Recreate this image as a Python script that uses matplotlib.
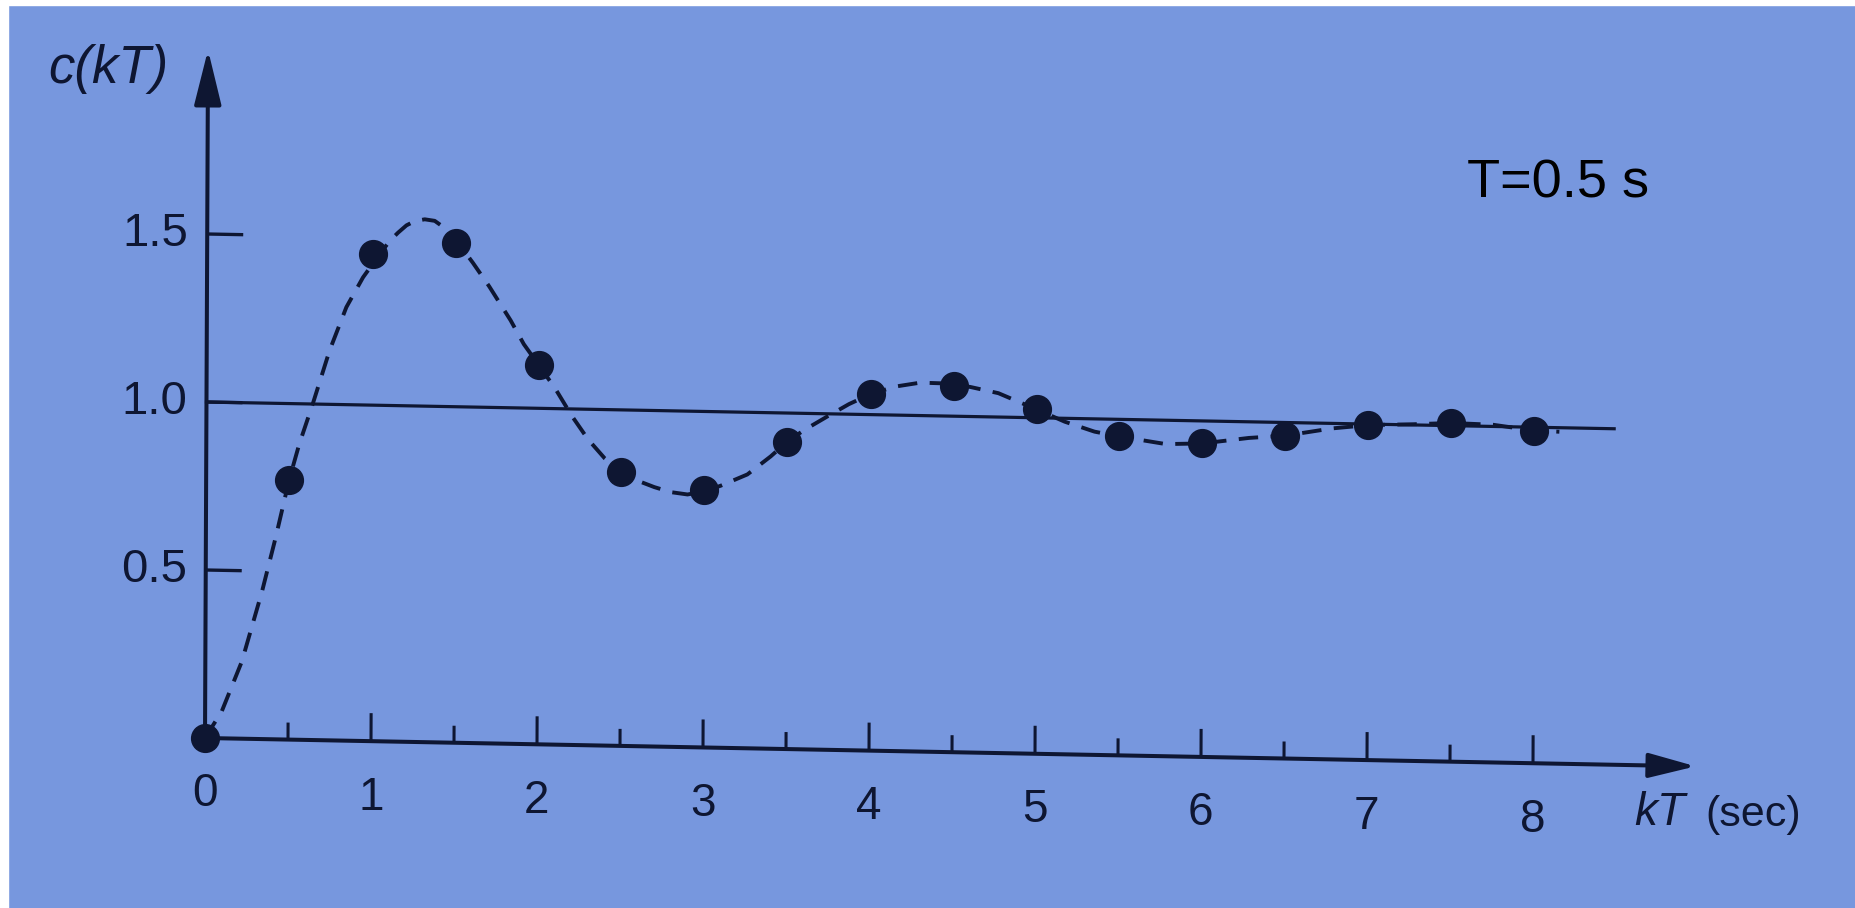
"""Sampled step response c(kT), T = 0.5 s (textbook figure, photographed)."""

import matplotlib

matplotlib.use("Agg")
import matplotlib.pyplot as plt
from matplotlib.patches import Rectangle
from matplotlib.transforms import Affine2D
import numpy as np

# sampled output c(kT)
k_t = [0, 0.5, 1.0, 1.5, 2.0, 2.5, 3.0, 3.5, 4.0, 4.5, 5.0, 5.5, 6.0, 6.5, 7.0, 7.5, 8.0]
c_kt = [0, 0.773, 1.45, 1.488, 1.129, 0.816, 0.767, 0.915, 1.061, 1.091,
        1.025, 0.949, 0.933, 0.961, 0.997, 1.008, 0.99]

# continuous response (dashed)
t_curve = [0, 0.1, 0.22, 0.34, 0.42, 0.5, 0.56, 0.64, 0.74, 0.84, 0.94, 1.04, 1.1,
           1.15, 1.2, 1.25, 1.31, 1.37, 1.44, 1.5, 1.6, 1.7, 1.83, 1.91, 2.0, 2.1,
           2.2, 2.3, 2.4, 2.5, 2.6, 2.7, 2.8, 2.9, 3.0, 3.1, 3.26, 3.4, 3.5, 3.6,
           3.74, 3.87, 4.0, 4.15, 4.3, 4.45, 4.6, 4.77, 5.0, 5.17, 5.35, 5.5, 5.78,
           6.0, 6.28, 6.5, 6.78, 7.0, 7.27, 7.5, 7.75, 8.0, 8.15]
c_curve = [0, 0.08, 0.23, 0.44, 0.6, 0.773, 0.88, 1.0, 1.16, 1.29, 1.38, 1.45, 1.49,
           1.515, 1.537, 1.55, 1.556, 1.552, 1.528, 1.495, 1.43, 1.36, 1.26, 1.19,
           1.129, 1.06, 0.98, 0.91, 0.855, 0.816, 0.79, 0.772, 0.758, 0.752, 0.762,
           0.78, 0.815, 0.87, 0.915, 0.95, 0.992, 1.03, 1.061, 1.085, 1.098, 1.097,
           1.088, 1.071, 1.025, 0.99, 0.962, 0.949, 0.929, 0.933, 0.952, 0.961,
           0.985, 0.997, 1.002, 1.008, 1.005, 0.99, 0.988]

ref_level = 1.0
ref_end = 8.48
x_major = [0, 1, 2, 3, 4, 5, 6, 7, 8]
x_minor = [0.5, 1.5, 2.5, 3.5, 4.5, 5.5, 6.5, 7.5]
y_ticks = [0.5, 1.0, 1.5]
y_ticklabels = ["0.5", "1.0", "1.5"]

BG = "#7797de"
INK = "#0e1632"
SANS = ["Liberation Sans", "DejaVu Sans"]

W, H = 1855, 908
ox, oy = 205, H - 738        # origin in pixels (y up)
sx, sy = 166.0, 336.0        # pixels per unit

fig = plt.figure(figsize=(W / 100, H / 100), dpi=100, facecolor=BG)
ax = fig.add_axes([0, 0, 1, 1])
ax.set_facecolor(BG)
ax.axis("off")
ax.set_xlim(-ox / sx, (W - ox) / sx)
ax.set_ylim(-oy / sy, (H - oy) / sy)

# the photographed page is slightly skewed
k1, k2 = 0.0044, 0.019
tilt = (Affine2D().translate(-ox, -oy)
        + Affine2D(np.array([[1, k1, 0], [-k2, 1, 0], [0, 0, 1]]))
        + Affine2D().translate(ox, oy))
tr = ax.transData + tilt

# axes with arrows
arrow_kw = dict(color=INK, lw=2.9, shrinkA=0, shrinkB=0)
ax.annotate("", xy=(8.98, 0), xytext=(0, 0), xycoords=tr, textcoords=tr,
            arrowprops=dict(arrowstyle="-|>,head_length=1.45,head_width=0.38",
                            mutation_scale=20, **arrow_kw))
ax.annotate("", xy=(0, 2.048), xytext=(0, 0), xycoords=tr, textcoords=tr,
            arrowprops=dict(arrowstyle="-|>,head_length=1.7,head_width=0.42",
                            mutation_scale=20, **arrow_kw))

# ticks
ax.vlines(x_major[1:], 0, 28 / sy, color=INK, lw=2.2, transform=tr)
ax.vlines(x_minor, 0, 17 / sy, color=INK, lw=2.2, transform=tr)
ax.hlines(y_ticks, 0, 36 / sx, color=INK, lw=2.4, transform=tr)

for x in x_major:
    ax.text(x, -0.168, str(x), transform=tr, ha="center", va="center",
            fontsize=33, color=INK, family=SANS)
for y, lab in zip(y_ticks, y_ticklabels):
    ax.text(-0.115, y, lab, transform=tr, ha="right", va="center",
            fontsize=34, color=INK, family=SANS)

# reference level, response and samples
ax.plot([0, ref_end], [ref_level, ref_level], color=INK, lw=2.3, transform=tr)
ax.plot(t_curve, c_curve, color=INK, lw=2.8, dashes=(5, 3.2), transform=tr)
ax.plot(k_t, c_kt, "o", color=INK, ms=20, transform=tr, zorder=5)

# labels
ax.text(-0.6, 1.985, "c(kT)", transform=tr, ha="center", va="center",
        fontsize=38, color=INK, style="italic", family=SANS)
ax.text(8.614, -0.143, "kT", transform=tr, ha="left", va="center",
        fontsize=33, color=INK, style="italic", family=SANS)
ax.text(9.04, -0.143, "(sec)", transform=tr, ha="left", va="center",
        fontsize=31, color=INK, family=SANS)
ax.text(7.602, 1.649, "T=0.5 s", ha="left", va="center", fontsize=39,
        color="black", family=SANS)

# white margins of the scan
fig.patches.append(Rectangle((0, 0), 8 / W, 1, transform=fig.transFigure,
                             color="white", zorder=-1))
fig.patches.append(Rectangle((0, 1 - 5 / H), 1, 5 / H, transform=fig.transFigure,
                             color="white", zorder=-1))

fig.savefig("out.png", dpi=100, facecolor=BG)
